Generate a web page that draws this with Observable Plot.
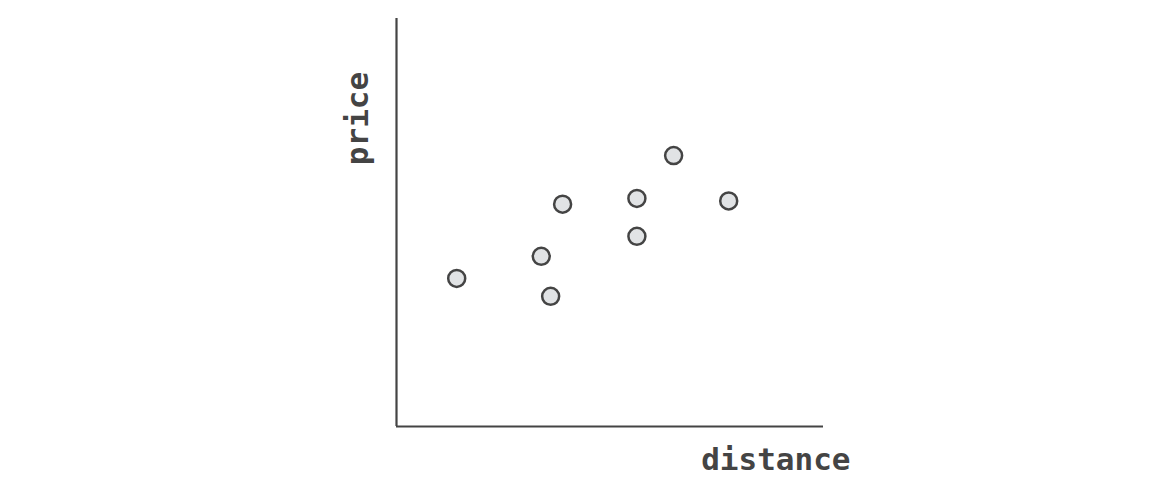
<!DOCTYPE html>
<html>
<head>
<meta charset="utf-8">
<script src="https://cdn.jsdelivr.net/npm/d3@7"></script>
<script src="https://cdn.jsdelivr.net/npm/@observablehq/plot@0.6"></script>
<style>
  html, body { margin: 0; padding: 0; background: #fff; }
</style>
</head>
<body>
<div id="chart"></div>
<script>
const distance = [1.41, 3.39, 3.61, 3.89, 5.63, 5.63, 6.49, 7.78];
const price    = [3.63, 4.17, 3.19, 5.45, 5.59, 4.66, 6.64, 5.53];
const xLabel = "distance";
const yLabel = "price";

const data = distance.map((d, i) => ({distance: d, price: price[i]}));
const ink = "#444";

const chart = Plot.plot({
  width: 1166,
  height: 491,
  marginLeft: 396,
  marginRight: 343,
  marginTop: 18,
  marginBottom: 65,
  style: {background: "#fff", fontFamily: "'DejaVu Sans Mono', monospace"},
  x: {domain: [0, 10], axis: null},
  y: {domain: [0, 10], axis: null},
  marks: [
    Plot.ruleX([0], {stroke: ink, strokeWidth: 2.2}),
    Plot.ruleY([0], {stroke: ink, strokeWidth: 2.2}),
    Plot.dot(data, {x: "distance", y: "price", r: 8.5, fill: "#e1e3e5", stroke: ink, strokeWidth: 2.5}),
    Plot.text([xLabel], {frameAnchor: "bottom-right", text: d => d, dx: 27, dy: 34, textAnchor: "end", lineAnchor: "middle", fontSize: 31, fontWeight: "bold", fill: ink}),
    Plot.text([yLabel], {frameAnchor: "top-left", text: d => d, dx: -38, dy: 100, rotate: -90, textAnchor: "middle", lineAnchor: "middle", fontSize: 31, fontWeight: "bold", fill: ink})
  ]
});
document.getElementById("chart").appendChild(chart);
</script>
</body>
</html>
